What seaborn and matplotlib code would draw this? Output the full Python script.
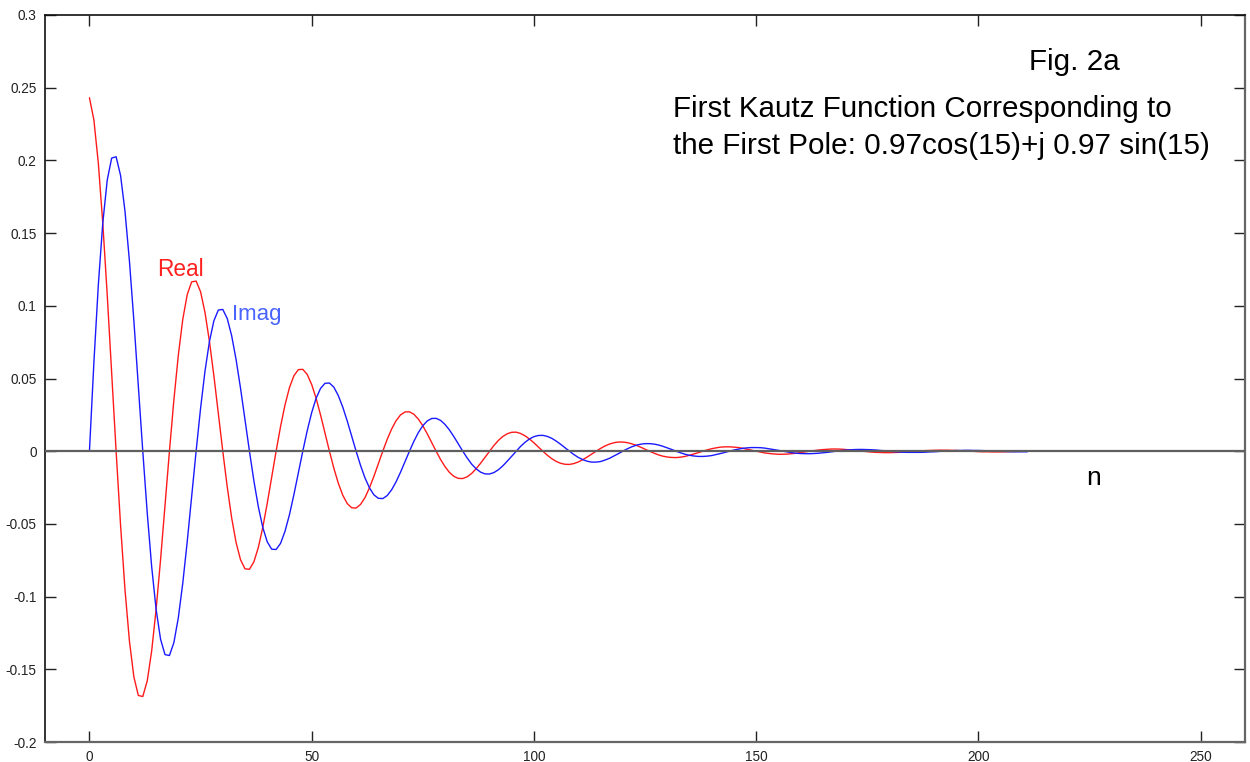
import matplotlib
matplotlib.use("Agg")
import matplotlib.pyplot as plt
import seaborn as sns
import pandas as pd
import numpy as np

# sample index n = 0..211
n_values = list(range(0, 212))

real_part = [
    0.2431, 0.2278, 0.1981, 0.1569, 0.1076, 0.0540, 0.0, -0.0508, -0.0953, -0.1307, -0.1553, -0.1680,
    -0.1687, -0.1580, -0.1374, -0.1088, -0.0747, -0.0375, 0.0, 0.0353, 0.0661, 0.0907, 0.1077, 0.1165,
    0.1170, 0.1097, 0.0954, 0.0755, 0.0518, 0.0260, 0.0, -0.0245, -0.0459, -0.0629, -0.0747, -0.0809,
    -0.0812, -0.0761, -0.0662, -0.0524, -0.0359, -0.0180, 0.0, 0.0170, 0.0318, 0.0437, 0.0519, 0.0561,
    0.0563, 0.0528, 0.0459, 0.0364, 0.0249, 0.0125, 0.0, -0.0118, -0.0221, -0.0303, -0.0360, -0.0389,
    -0.0391, -0.0366, -0.0319, -0.0252, -0.0173, -0.0087, 0.0, 0.0082, 0.0153, 0.0210, 0.0250, 0.0270,
    0.0271, 0.0254, 0.0221, 0.0175, 0.0120, 0.0060, 0.0, -0.0057, -0.0106, -0.0146, -0.0173, -0.0187,
    -0.0188, -0.0176, -0.0153, -0.0121, -0.0083, -0.0042, 0.0, 0.0039, 0.0074, 0.0101, 0.0120, 0.0130,
    0.0131, 0.0122, 0.0106, 0.0084, 0.0058, 0.0029, 0.0, -0.0027, -0.0051, -0.0070, -0.0083, -0.0090,
    -0.0091, -0.0085, -0.0074, -0.0058, -0.0040, -0.0020, 0.0, 0.0019, 0.0036, 0.0049, 0.0058, 0.0063,
    0.0063, 0.0059, 0.0051, 0.0041, 0.0028, 0.0014, 0.0, -0.0013, -0.0025, -0.0034, -0.0040, -0.0043,
    -0.0044, -0.0041, -0.0036, -0.0028, -0.0019, -0.0010, 0.0, 0.0009, 0.0017, 0.0023, 0.0028, 0.0030,
    0.0030, 0.0028, 0.0025, 0.0020, 0.0013, 0.0007, 0.0, -0.0006, -0.0012, -0.0016, -0.0019, -0.0021,
    -0.0021, -0.0020, -0.0017, -0.0014, -0.0009, -0.0005, 0.0, 0.0004, 0.0008, 0.0011, 0.0013, 0.0015,
    0.0015, 0.0014, 0.0012, 0.0009, 0.0006, 0.0003, 0.0, -0.0003, -0.0006, -0.0008, -0.0009, -0.0010,
    -0.0010, -0.0009, -0.0008, -0.0007, -0.0004, -0.0002, 0.0, 0.0002, 0.0004, 0.0005, 0.0006, 0.0007,
    0.0007, 0.0007, 0.0006, 0.0005, 0.0003, 0.0002, 0.0, -0.0001, -0.0003, -0.0004, -0.0004, -0.0005,
    -0.0005, -0.0005, -0.0004, -0.0003, -0.0002, -0.0001, 0.0, 0.0001,
]

imag_part = [
    0.0, 0.0610, 0.1144, 0.1569, 0.1864, 0.2016, 0.2025, 0.1897, 0.1650, 0.1307, 0.0896, 0.0450,
    0.0, -0.0423, -0.0794, -0.1088, -0.1293, -0.1399, -0.1405, -0.1316, -0.1145, -0.0907, -0.0622, -0.0312,
    0.0, 0.0294, 0.0551, 0.0755, 0.0897, 0.0971, 0.0975, 0.0913, 0.0794, 0.0629, 0.0432, 0.0217,
    0.0, -0.0204, -0.0382, -0.0524, -0.0623, -0.0674, -0.0676, -0.0634, -0.0551, -0.0437, -0.0299, -0.0150,
    0.0, 0.0141, 0.0265, 0.0364, 0.0432, 0.0467, 0.0469, 0.0440, 0.0382, 0.0303, 0.0208, 0.0104,
    0.0, -0.0098, -0.0184, -0.0252, -0.0300, -0.0324, -0.0326, -0.0305, -0.0265, -0.0210, -0.0144, -0.0072,
    0.0, 0.0068, 0.0128, 0.0175, 0.0208, 0.0225, 0.0226, 0.0212, 0.0184, 0.0146, 0.0100, 0.0050,
    0.0, -0.0047, -0.0089, -0.0121, -0.0144, -0.0156, -0.0157, -0.0147, -0.0128, -0.0101, -0.0069, -0.0035,
    0.0, 0.0033, 0.0061, 0.0084, 0.0100, 0.0108, 0.0109, 0.0102, 0.0089, 0.0070, 0.0048, 0.0024,
    0.0, -0.0023, -0.0043, -0.0058, -0.0069, -0.0075, -0.0075, -0.0071, -0.0061, -0.0049, -0.0033, -0.0017,
    0.0, 0.0016, 0.0030, 0.0041, 0.0048, 0.0052, 0.0052, 0.0049, 0.0043, 0.0034, 0.0023, 0.0012,
    0.0, -0.0011, -0.0021, -0.0028, -0.0033, -0.0036, -0.0036, -0.0034, -0.0030, -0.0023, -0.0016, -0.0008,
    0.0, 0.0008, 0.0014, 0.0020, 0.0023, 0.0025, 0.0025, 0.0024, 0.0021, 0.0016, 0.0011, 0.0006,
    0.0, -0.0005, -0.0010, -0.0014, -0.0016, -0.0017, -0.0017, -0.0016, -0.0014, -0.0011, -0.0008, -0.0004,
    0.0, 0.0004, 0.0007, 0.0009, 0.0011, 0.0012, 0.0012, 0.0011, 0.0010, 0.0008, 0.0005, 0.0003,
    0.0, -0.0003, -0.0005, -0.0007, -0.0008, -0.0008, -0.0008, -0.0008, -0.0007, -0.0005, -0.0004, -0.0002,
    0.0, 0.0002, 0.0003, 0.0005, 0.0005, 0.0006, 0.0006, 0.0005, 0.0005, 0.0004, 0.0003, 0.0001,
    0.0, -0.0001, -0.0002, -0.0003, -0.0004, -0.0004, -0.0004, -0.0004,
]

x_ticks = [0, 50, 100, 150, 200, 250]
y_ticks = [-0.2, -0.15, -0.1, -0.05, 0, 0.05, 0.1, 0.15, 0.2, 0.25, 0.3]
y_tick_labels = ["-0.2", "-0.15", "-0.1", "-0.05", "0", "0.05", "0.1", "0.15", "0.2", "0.25", "0.3"]
x_tick_labels = ["0", "50", "100", "150", "200", "250"]

fig_label = "Fig. 2a"
title_line1 = "First Kautz Function Corresponding to"
title_line2 = "the First Pole: 0.97cos(15)+j 0.97 sin(15)"

sns.set_style("ticks")
plt.rcParams["font.family"] = ["Liberation Sans", "DejaVu Sans"]

df = pd.DataFrame({
    "n": n_values + n_values,
    "value": real_part + imag_part,
    "part": ["Real"] * len(n_values) + ["Imag"] * len(n_values),
})

fig = plt.figure(figsize=(12.5, 7.62), dpi=100)
ax = fig.add_axes([45 / 1250, 20 / 762, 1200 / 1250, 727 / 762])

sns.lineplot(data=df, x="n", y="value", hue="part",
             palette={"Real": "#ff1a1a", "Imag": "#1a1aff"},
             hue_order=["Real", "Imag"], estimator=None, sort=False,
             linewidth=1.0, legend=False, ax=ax)

ax.axhline(0, color="#5f5f5f", linewidth=1.6, zorder=5)

ax.set_xlim(-10, 260)
ax.set_ylim(-0.2, 0.3)
ax.set_xticks(x_ticks)
ax.set_xticklabels(x_tick_labels)
ax.set_yticks(y_ticks)
ax.set_yticklabels(y_tick_labels)
ax.set_xlabel("")
ax.set_ylabel("")

ax.tick_params(direction="in", length=8, width=1.0, top=True, right=True,
               labelsize=9.8, colors="#222222", pad=6)

for side in ["left", "top"]:
    ax.spines[side].set_visible(True)
    ax.spines[side].set_color("#111111")
    ax.spines[side].set_linewidth(1.2)
for side in ["right", "bottom"]:
    ax.spines[side].set_visible(True)
    ax.spines[side].set_color("#666666")
    ax.spines[side].set_linewidth(1.6)

ax.text(211.4, 0.2675, fig_label, fontsize=21.3, color="black", va="center", ha="left")
ax.text(131.2, 0.2355, title_line1, fontsize=21.3, color="black", va="center", ha="left")
ax.text(131.2, 0.2100, title_line2, fontsize=21.3, color="black", va="center", ha="left")
ax.text(15.2, 0.1253, "Real", fontsize=16.3, color="#ff2020", va="center", ha="left")
ax.text(32.1, 0.0937, "Imag", fontsize=16, color="#4a64ff", va="center", ha="left")
ax.text(226, -0.0184, "n", fontsize=19, color="black", va="center", ha="center")

fig.savefig("out.png", dpi=100)
